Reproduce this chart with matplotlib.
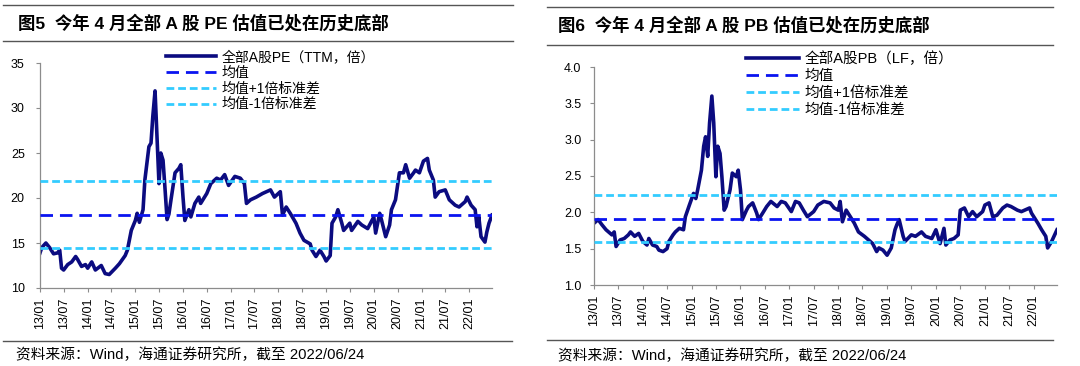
import pandas as pd
import matplotlib
matplotlib.use("Agg")
import matplotlib.pyplot as plt
from matplotlib.lines import Line2D

plt.rcParams['font.family'] = ['Liberation Sans', 'Noto Sans CJK SC', 'DejaVu Sans']
plt.rcParams['axes.unicode_minus'] = False

# ---- data ----
pe_dates = ['2013-01-01', '2013-01-15', '2013-02-15', '2013-03-15', '2013-04-15', '2013-05-15', '2013-06-01',
            '2013-06-15', '2013-07-01', '2013-08-01', '2013-09-01', '2013-10-01', '2013-10-15', '2013-11-15',
            '2013-12-15', '2014-01-01', '2014-02-01', '2014-03-01', '2014-04-15', '2014-05-15', '2014-06-15',
            '2014-08-01', '2014-09-01', '2014-10-15', '2014-11-01', '2014-12-01', '2015-01-01', '2015-01-15',
            '2015-02-01', '2015-03-01', '2015-03-15', '2015-04-15', '2015-05-01', '2015-05-15', '2015-06-01',
            '2015-06-15', '2015-07-01', '2015-07-15', '2015-08-01', '2015-08-15', '2015-09-01', '2015-09-15',
            '2015-10-01', '2015-11-01', '2015-12-01', '2015-12-15', '2016-01-01', '2016-01-15', '2016-02-15',
            '2016-03-01', '2016-04-01', '2016-05-01', '2016-05-15', '2016-07-01', '2016-08-01', '2016-09-15',
            '2016-10-15', '2016-11-15', '2016-12-15', '2017-02-01', '2017-03-15', '2017-04-15', '2017-05-01',
            '2017-06-01', '2017-07-15', '2017-09-01', '2017-11-01', '2017-12-01', '2018-01-15', '2018-02-01',
            '2018-03-01', '2018-04-01', '2018-05-15', '2018-06-15', '2018-07-15', '2018-09-01', '2018-09-15',
            '2018-10-15', '2018-11-15', '2018-12-15', '2019-01-01', '2019-02-01', '2019-02-15', '2019-03-15',
            '2019-04-01', '2019-05-01', '2019-05-15', '2019-07-01', '2019-07-15', '2019-09-01', '2019-10-01',
            '2019-11-15', '2020-01-01', '2020-01-15', '2020-02-15', '2020-03-01', '2020-04-01', '2020-05-01',
            '2020-05-15', '2020-06-15', '2020-07-15', '2020-08-15', '2020-09-01', '2020-10-01', '2020-11-01',
            '2020-11-15', '2020-12-15', '2021-01-15', '2021-02-15', '2021-03-01', '2021-04-01', '2021-04-15',
            '2021-05-15', '2021-07-01', '2021-08-01', '2021-09-15', '2021-10-15', '2021-12-01', '2021-12-15',
            '2022-01-15', '2022-02-15', '2022-03-01', '2022-03-15', '2022-04-01', '2022-05-01', '2022-05-15',
            '2022-06-01', '2022-06-24']
pe_vals = [13.9, 14.5, 15.0, 14.5, 13.8, 13.9, 14.2,
           12.2, 12.0, 12.6, 12.9, 13.5, 13.2, 12.4,
           12.6, 12.2, 12.9, 12.0, 12.5, 11.6, 11.5,
           12.2, 12.7, 13.6, 14.2, 16.4, 17.5, 18.3,
           17.3, 18.7, 22.0, 25.7, 26.1, 29.1, 31.9,
           27.2, 21.6, 25.0, 24.2, 21.3, 17.6, 18.2,
           19.8, 22.8, 23.3, 23.7, 20.1, 17.5, 18.7,
           17.9, 19.4, 20.1, 19.4, 20.5, 21.6, 22.2,
           22.0, 22.6, 21.4, 22.4, 22.2, 21.6, 19.4,
           19.8, 20.1, 20.5, 20.9, 20.1, 20.7, 18.1,
           19.0, 18.3, 17.2, 16.1, 15.3, 14.9, 14.2,
           13.5, 14.2, 13.5, 13.0, 13.6, 17.2, 17.9,
           18.7, 17.2, 16.4, 17.2, 16.4, 17.4, 17.0,
           16.6, 17.9, 16.1, 18.3, 17.5, 15.7, 17.0,
           18.7, 19.8, 22.8, 22.8, 23.7, 22.2, 22.8,
           23.1, 22.8, 24.1, 24.4, 23.1, 22.0, 20.1,
           20.7, 20.9, 19.8, 19.2, 19.0, 19.6, 20.1,
           19.2, 18.7, 16.8, 17.9, 15.7, 15.1, 16.2,
           17.2, 18.1]
pe_mean, pe_up, pe_dn = 18.15, 21.9, 14.4

pb_dates = ['2013-01-01', '2013-02-01', '2013-03-01', '2013-04-01', '2013-05-15', '2013-06-01', '2013-06-15',
            '2013-07-15', '2013-08-15', '2013-09-15', '2013-10-01', '2013-11-01', '2013-12-01', '2014-01-01',
            '2014-02-01', '2014-02-15', '2014-03-15', '2014-04-15', '2014-05-01', '2014-06-01', '2014-07-01',
            '2014-07-15', '2014-08-15', '2014-09-01', '2014-10-01', '2014-11-01', '2014-11-15', '2014-12-15',
            '2015-01-15', '2015-02-01', '2015-02-15', '2015-03-15', '2015-04-01', '2015-04-15', '2015-05-01',
            '2015-05-15', '2015-06-01', '2015-06-15', '2015-07-01', '2015-07-15', '2015-08-01', '2015-08-15',
            '2015-09-01', '2015-09-15', '2015-10-15', '2015-11-01', '2015-12-01', '2015-12-15', '2016-01-01',
            '2016-01-15', '2016-02-15', '2016-03-01', '2016-04-01', '2016-05-01', '2016-05-15', '2016-06-15',
            '2016-07-15', '2016-08-15', '2016-10-01', '2016-11-01', '2016-12-01', '2017-01-15', '2017-02-15',
            '2017-03-15', '2017-04-15', '2017-05-15', '2017-07-01', '2017-08-01', '2017-09-15', '2017-11-01',
            '2017-12-01', '2018-01-01', '2018-01-15', '2018-02-01', '2018-03-01', '2018-04-01', '2018-05-01',
            '2018-06-01', '2018-07-15', '2018-08-15', '2018-09-15', '2018-10-15', '2018-11-01', '2018-12-01',
            '2019-01-01', '2019-02-01', '2019-03-01', '2019-03-15', '2019-04-01', '2019-05-01', '2019-05-15',
            '2019-07-01', '2019-08-01', '2019-09-15', '2019-10-15', '2019-12-01', '2020-01-01', '2020-02-01',
            '2020-03-01', '2020-03-15', '2020-04-15', '2020-05-15', '2020-06-15', '2020-07-01', '2020-08-01',
            '2020-09-01', '2020-10-01', '2020-11-01', '2020-12-15', '2021-01-01', '2021-02-01', '2021-03-01',
            '2021-04-01', '2021-05-15', '2021-06-15', '2021-07-15', '2021-09-01', '2021-10-01', '2021-12-01',
            '2021-12-15', '2022-02-01', '2022-03-01', '2022-04-01', '2022-04-15', '2022-05-15', '2022-06-24']
pb_vals = [1.85, 1.90, 1.83, 1.76, 1.69, 1.73, 1.53,
           1.62, 1.64, 1.69, 1.73, 1.67, 1.71, 1.60,
           1.55, 1.64, 1.55, 1.53, 1.48, 1.46, 1.50,
           1.60, 1.69, 1.73, 1.78, 1.76, 1.94, 2.10,
           2.26, 2.19, 2.31, 2.58, 2.91, 3.04, 2.77,
           3.23, 3.60, 3.23, 2.49, 2.91, 2.81, 2.49,
           2.03, 2.08, 2.31, 2.54, 2.49, 2.58, 2.31,
           1.90, 2.03, 2.08, 2.13, 1.99, 1.90, 1.99,
           2.08, 2.15, 2.08, 2.15, 2.13, 2.01, 2.15,
           2.13, 2.03, 1.94, 2.01, 2.10, 2.15, 2.13,
           2.06, 2.03, 2.15, 1.87, 2.03, 1.94, 1.85,
           1.73, 1.67, 1.62, 1.57, 1.46, 1.51, 1.48,
           1.41, 1.51, 1.76, 1.83, 1.90, 1.67, 1.60,
           1.69, 1.67, 1.73, 1.67, 1.64, 1.76, 1.57,
           1.78, 1.55, 1.62, 1.64, 1.69, 2.03, 2.06,
           1.94, 2.01, 1.94, 2.01, 2.10, 2.13, 1.94,
           1.96, 2.06, 2.10, 2.08, 2.03, 2.01, 2.06,
           1.99, 1.85, 1.76, 1.67, 1.51, 1.60, 1.76]
pb_mean, pb_up, pb_dn = 1.91, 2.235, 1.59

tick_dates = ['2013-01-01', '2013-07-01', '2014-01-01', '2014-07-01', '2015-01-01', '2015-07-01', '2016-01-01',
              '2016-07-01', '2017-01-01', '2017-07-01', '2018-01-01', '2018-07-01', '2019-01-01', '2019-07-01',
              '2020-01-01', '2020-07-01', '2021-01-01', '2021-07-01', '2022-01-01']
tick_labels = ['13/01', '13/07', '14/01', '14/07', '15/01', '15/07', '16/01', '16/07', '17/01', '17/07',
               '18/01', '18/07', '19/01', '19/07', '20/01', '20/07', '21/01', '21/07', '22/01']

W, H = 1080, 366
fig = plt.figure(figsize=(W / 100, H / 100), dpi=100)
fig.patch.set_facecolor('white')

navy = '#0b0b80'
mid_blue = '#0a14f0'
light_blue = '#33ccff'
rule_col = '#555555'


def px(x0, y0, x1, y1):
    # pixel box -> figure fraction rect
    return [x0 / W, 1 - y1 / H, (x1 - x0) / W, (y1 - y0) / H]


def hrule(x0, x1, y):
    fig.add_artist(Line2D([x0 / W, x1 / W], [1 - y / H, 1 - y / H], color=rule_col, lw=1.0))


def panel(rect, dates, vals, mean, up, dn, ylim, yticks, yfmt, labels, legend_xy, ypad, legfs, legsp):
    ax = fig.add_axes(rect)
    d = pd.to_datetime(dates)
    ax.plot(d, vals, color=navy, lw=2.6, label=labels[0], zorder=2, solid_joinstyle='round')
    ax.axhline(mean, color=mid_blue, lw=2.0, dashes=(4.5, 2.5), label=labels[1], zorder=3)
    ax.axhline(up, color=light_blue, lw=2.0, dashes=(2.8, 1.4), label=labels[2], zorder=3)
    ax.axhline(dn, color=light_blue, lw=2.0, dashes=(2.8, 1.4), label=labels[3], zorder=3)
    ax.set_xlim(pd.Timestamp('2013-01-01'), pd.Timestamp('2022-06-24'))
    ax.set_ylim(*ylim)
    ax.set_yticks(yticks)
    ax.set_yticklabels([yfmt.format(v) for v in yticks])
    ax.set_xticks(pd.to_datetime(tick_dates))
    ax.set_xticklabels(tick_labels, rotation=90)
    for s in ['top', 'right']:
        ax.spines[s].set_visible(False)
    for s in ['left', 'bottom']:
        ax.spines[s].set_color('#8c8c8c')
        ax.spines[s].set_linewidth(0.9)
    ax.tick_params(axis='y', length=3, width=0.8, color='#8c8c8c', labelsize=9, pad=ypad)
    ax.tick_params(axis='x', length=3, width=0.8, color='#8c8c8c', labelsize=9, pad=4)
    fig.legend(loc='upper left', bbox_to_anchor=(legend_xy[0] / W, 1 - legend_xy[1] / H),
               frameon=False, fontsize=legfs, handlelength=3.6, handletextpad=0.4,
               labelspacing=legsp, borderpad=0, borderaxespad=0,
               handles=ax.get_legend_handles_labels()[0])
    return ax


# left panel
hrule(3, 513, 5)
hrule(3, 513, 41)
fig.text(18 / W, 1 - 23 / H, '图5  今年 4 月全部 A 股 PE 估值已处在历史底部',
         fontsize=12.5, fontweight='bold', va='center', ha='left')
panel(px(40, 63, 492, 288), pe_dates, pe_vals, pe_mean, pe_up, pe_dn, (10, 35),
      [10, 15, 20, 25, 30, 35], '{:.0f}',
      ['全部A股PE（TTM，倍）', '均值', '均值+1倍标准差', '均值-1倍标准差'], (166, 50), 8, 10, 0.13)
hrule(3, 512, 341)
fig.text(16 / W, 1 - 355 / H, '资料来源：Wind，海通证券研究所，截至 2022/06/24',
         fontsize=10.6, va='center', ha='left')

# right panel
hrule(547, 1053, 7)
hrule(547, 1053, 45)
fig.text(558 / W, 1 - 25 / H, '图6  今年 4 月全部 A 股 PB 估值已处在历史底部',
         fontsize=12.5, fontweight='bold', va='center', ha='left')
panel(px(594, 67, 1057, 285), pb_dates, pb_vals, pb_mean, pb_up, pb_dn, (1.0, 4.0),
      [1.0, 1.5, 2.0, 2.5, 3.0, 3.5, 4.0], '{:.1f}',
      ['全部A股PB（LF，倍）', '均值', '均值+1倍标准差', '均值-1倍标准差'], (746, 51), 6, 10.5, 0.22)
hrule(547, 1053, 340)
fig.text(558 / W, 1 - 356 / H, '资料来源：Wind，海通证券研究所，截至 2022/06/24',
         fontsize=10.6, va='center', ha='left')

fig.savefig('out.png', dpi=100, facecolor='white')
